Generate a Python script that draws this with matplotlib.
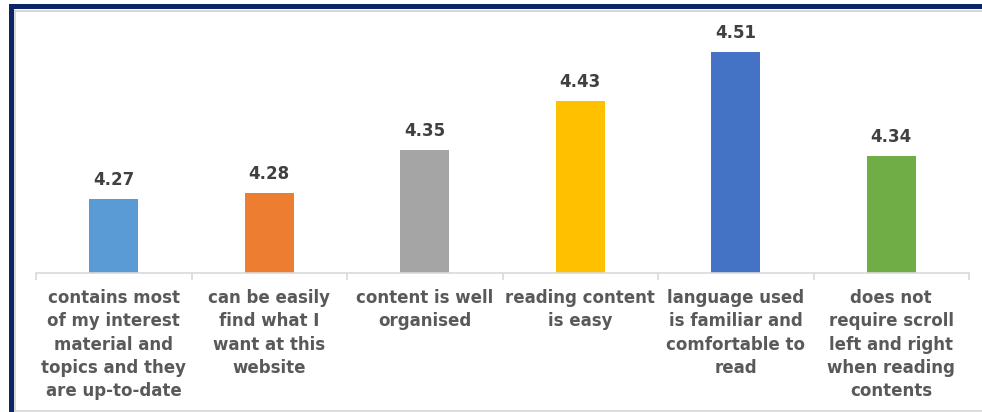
import matplotlib
matplotlib.use('Agg')
import matplotlib.pyplot as plt
from matplotlib.patches import Rectangle
from matplotlib.lines import Line2D

categories = ['contains most\nof my interest\nmaterial and\ntopics and they\nare up-to-date',
              'can be easily\nfind what I\nwant at this\nwebsite',
              'content is well\norganised',
              'reading content\nis easy',
              'language used\nis familiar and\ncomfortable to\nread',
              'does not\nrequire scroll\nleft and right\nwhen reading\ncontents']
scores = [4.27, 4.28, 4.35, 4.43, 4.51, 4.34]
colours = ['#5B9BD5', '#ED7D31', '#A5A5A5', '#FFC000', '#4472C4', '#70AD47']

W, H = 982, 412
fig = plt.figure(figsize=(W/100, H/100), dpi=100)
fig.patch.set_facecolor('white')

# navy frame (top and left edges visible), faint inner line
fig.patches.append(Rectangle((10.5/W, -0.2), 1.2, 1.2 - 6.5/H, transform=fig.transFigure,
                             fill=False, edgecolor='#0B2566', lw=3.6, zorder=5))
fig.lines.append(Line2D([14.5/W, 1], [1-10.5/H, 1-10.5/H], transform=fig.transFigure,
                        color='#D0D0D0', lw=1.2))
fig.lines.append(Line2D([14.5/W, 14.5/W], [0, 1-10.5/H], transform=fig.transFigure,
                        color='#D0D0D0', lw=1.2))
fig.lines.append(Line2D([14.5/W, 1], [1.5/H, 1.5/H], transform=fig.transFigure,
                        color='#D6D6D6', lw=1.2))

ymin, ymax = 4.15, 4.55
ax_left, ax_right = 36/W, 969/W
ax_bottom = 1 - 272.5/H
ax_top = 1 - 27/H
ax = fig.add_axes([ax_left, ax_bottom, ax_right-ax_left, ax_top-ax_bottom])
ax.set_facecolor('none')

x = range(len(scores))
bars = ax.bar(x, scores, width=0.315, color=colours, bottom=0)
ax.set_xlim(-0.5, len(scores)-0.5)
ax.set_ylim(ymin, ymax)

for b, v in zip(bars, scores):
    ax.annotate(f'{v:.2f}', (b.get_x()+b.get_width()/2, v), xytext=(0, 7),
                textcoords='offset points', ha='center', va='bottom',
                fontsize=12, fontweight='bold', color='#404040', clip_on=False)

for s in ['top', 'right', 'left']:
    ax.spines[s].set_visible(False)
ax.spines['bottom'].set_color('#D9D9D9')
ax.spines['bottom'].set_linewidth(1.2)
ax.set_yticks([])

# tick marks at category boundaries
ax.set_xticks([i-0.5 for i in range(len(scores)+1)])
ax.set_xticklabels([])
ax.tick_params(axis='x', length=5, width=1.2, color='#D9D9D9', direction='out')

label_y = -16.5/(272.5-27)
for i, lab in enumerate(categories):
    ax.text(i, label_y, lab, transform=ax.get_xaxis_transform(),
            ha='center', va='top', fontsize=12, fontweight='bold', color='#595959',
            linespacing=1.38)

fig.savefig('out.png', dpi=100, facecolor='white')
